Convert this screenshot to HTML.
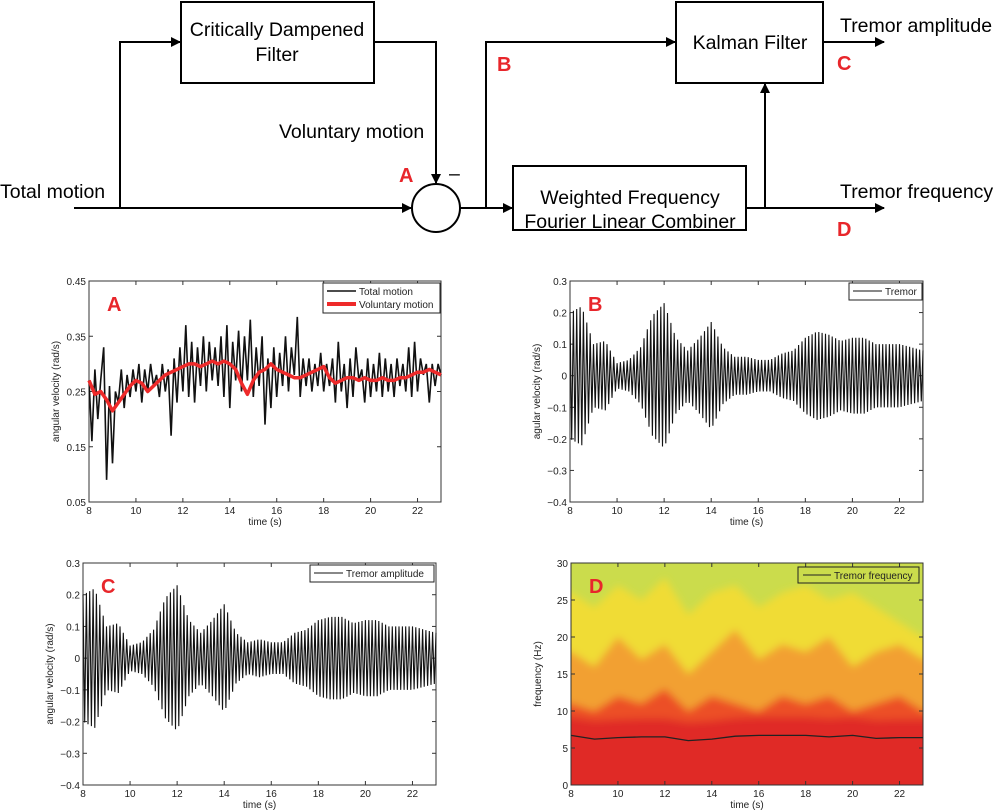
<!DOCTYPE html>
<html><head><meta charset="utf-8"><style>
html,body{margin:0;padding:0;background:#fff}
svg{display:block;font-family:"Liberation Sans",Arial,sans-serif}
.dt{font-size:19.5px;fill:#000}
.lab{font-size:20px;font-weight:bold;fill:#e8262b}
.tk{font-size:10px;fill:#222}
.al{font-size:10px;fill:#222}
</style></head><body>
<svg id="root" width="1000" height="811" viewBox="0 0 1000 811">
<defs>
<marker id="ar" markerWidth="10" markerHeight="10" refX="9" refY="5" orient="auto" markerUnits="userSpaceOnUse"><path d="M0,0 L10,5 L0,10 z" fill="#000"/></marker>
<filter id="blur"><feGaussianBlur stdDeviation="4"/></filter>
<clipPath id="clipD"><rect x="571" y="563" width="352" height="222"/></clipPath>
</defs>
<g stroke="#000" stroke-width="2" fill="none">
<rect x="181" y="2" width="193" height="81"/>
<rect x="676" y="2" width="147" height="81"/>
<rect x="513" y="166" width="233" height="64"/>
<circle cx="436" cy="208" r="24"/>
<path d="M74,208 L411,208" marker-end="url(#ar)"/>
<path d="M120,208 L120,42 L180,42" marker-end="url(#ar)"/>
<path d="M374,42 L436,42 L436,183" marker-end="url(#ar)"/>
<path d="M460,208 L512,208" marker-end="url(#ar)"/>
<path d="M486,208 L486,42 L675,42" marker-end="url(#ar)"/>
<path d="M823,42 L884,42" marker-end="url(#ar)"/>
<path d="M746,208 L884,208" marker-end="url(#ar)"/>
<path d="M765,208 L765,84" marker-end="url(#ar)"/>
</g>
<g>
<text class="dt" x="277" y="36" text-anchor="middle">Critically Dampened</text>
<text class="dt" x="277" y="61" text-anchor="middle">Filter</text>
<text class="dt" x="750" y="49" text-anchor="middle">Kalman Filter</text>
<text class="dt" x="630" y="204" text-anchor="middle">Weighted Frequency</text>
<text class="dt" x="630" y="228" text-anchor="middle">Fourier Linear Combiner</text>
<text class="dt" x="840" y="32">Tremor amplitude</text>
<text class="dt" x="840" y="198">Tremor frequency</text>
<text class="dt" x="0" y="198">Total motion</text>
<text class="dt" x="279" y="138">Voluntary motion</text>
<text class="dt" x="449" y="180">–</text>
<text class="lab" x="399" y="182">A</text>
<text class="lab" x="497" y="71">B</text>
<text class="lab" x="837" y="70">C</text>
<text class="lab" x="837" y="236">D</text>
</g>
<g id="charts"></g>
</svg>
<script>
// Panel A data (t from 8 to 23)
const voluntaryT = [8,8.25,8.5,8.75,9,9.25,9.5,9.75,10,10.25,10.5,10.75,11,11.25,11.5,11.75,12,12.25,12.5,12.75,13,13.25,13.5,13.75,14,14.25,14.5,14.75,15,15.25,15.5,15.75,16,16.25,16.5,16.75,17,17.25,17.5,17.75,18,18.25,18.5,18.75,19,19.25,19.5,19.75,20,20.25,20.5,20.75,21,21.25,21.5,21.75,22,22.25,22.5,22.75,23];
const voluntaryV = [0.27,0.245,0.25,0.235,0.215,0.23,0.245,0.26,0.27,0.265,0.25,0.26,0.27,0.28,0.285,0.29,0.295,0.3,0.3,0.295,0.3,0.305,0.3,0.305,0.3,0.29,0.265,0.245,0.27,0.285,0.29,0.3,0.29,0.285,0.28,0.275,0.275,0.28,0.285,0.29,0.295,0.275,0.265,0.27,0.275,0.275,0.27,0.275,0.27,0.27,0.275,0.27,0.27,0.275,0.275,0.28,0.285,0.285,0.29,0.285,0.28];
const totalV = [0.27,0.16,0.29,0.2,0.27,0.33,0.09,0.26,0.12,0.25,0.23,0.29,0.22,0.28,0.24,0.29,0.25,0.3,0.23,0.29,0.25,0.3,0.26,0.28,0.24,0.3,0.25,0.29,0.17,0.31,0.23,0.33,0.25,0.37,0.24,0.34,0.23,0.33,0.26,0.35,0.25,0.34,0.27,0.33,0.26,0.35,0.24,0.37,0.22,0.34,0.27,0.36,0.25,0.35,0.27,0.38,0.24,0.33,0.26,0.35,0.19,0.31,0.22,0.33,0.24,0.32,0.26,0.35,0.25,0.33,0.28,0.385,0.24,0.31,0.26,0.31,0.25,0.3,0.26,0.32,0.25,0.3,0.26,0.31,0.23,0.34,0.25,0.3,0.22,0.31,0.24,0.33,0.27,0.29,0.23,0.31,0.24,0.3,0.25,0.32,0.24,0.31,0.25,0.3,0.24,0.31,0.26,0.3,0.25,0.33,0.24,0.34,0.25,0.31,0.28,0.3,0.23,0.3,0.26,0.3,0.28];
// Panel B/C tremor envelope (every 0.5 s)
const envT = [8,8.5,9,9.5,10,10.5,11,11.5,12,12.5,13,13.5,14,14.5,15,15.5,16,16.5,17,17.5,18,18.5,19,19.5,20,20.5,21,21.5,22,22.5,23];
const tremorEnv = [0.2,0.22,0.1,0.11,0.04,0.05,0.09,0.19,0.23,0.12,0.08,0.12,0.17,0.09,0.06,0.06,0.05,0.05,0.07,0.08,0.12,0.14,0.13,0.11,0.12,0.12,0.1,0.1,0.1,0.09,0.08];
const ampEnv = [0.2,0.22,0.1,0.11,0.04,0.05,0.09,0.19,0.23,0.12,0.08,0.12,0.17,0.08,0.05,0.06,0.05,0.05,0.08,0.09,0.12,0.13,0.13,0.11,0.12,0.12,0.1,0.1,0.1,0.09,0.08];
const tremorHz = 7;
// Panel D
const freqT = [8,9,10,11,12,13,14,15,16,17,18,19,20,21,22,23];
const freqV = [6.7,6.2,6.4,6.5,6.5,6.0,6.2,6.6,6.7,6.7,6.7,6.5,6.7,6.3,6.4,6.4];
const redTop = [11,10,12,11,13,10,12,11,10,12,11,12,10,11,12,10];
const orangeTop = [18,16,20,17,19,15,18,21,17,19,18,20,16,18,19,17];
const yellowTop = [26,24,27,25,28,23,26,27,24,26,27,25,26,24,22,20];

const NS="http://www.w3.org/2000/svg";
const root=document.getElementById('charts');
function mk(tag,attrs,parent){const e=document.createElementNS(NS,tag);for(const k in attrs)e.setAttribute(k,attrs[k]);(parent||root).appendChild(e);return e;}
function interp(ts,vs,t){for(let i=0;i<ts.length-1;i++){if(t<=ts[i+1]){const f=(t-ts[i])/(ts[i+1]-ts[i]);return vs[i]+f*(vs[i+1]-vs[i]);}}return vs[vs.length-1];}

function axes(p){
  const g=mk('g',{});
  
  
  p.g=g;
  p.sx=t=>p.x0+(t-8)/15*(p.x1-p.x0);
  p.sy=v=>p.y1-(v-p.ymin)/(p.ymax-p.ymin)*(p.y1-p.y0);
  return g;
}
function frame(p,yticks,yfmt,ylabel){
  const g=p.g;
  mk('rect',{x:p.x0,y:p.y0,width:p.x1-p.x0,height:p.y1-p.y0,fill:'none',stroke:'#333','stroke-width':1},g);
  [8,10,12,14,16,18,20,22].forEach(t=>{
    const x=p.sx(t);
    mk('line',{x1:x,x2:x,y1:p.y1,y2:p.y1-4,stroke:'#333'},g);
    mk('line',{x1:x,x2:x,y1:p.y0,y2:p.y0+4,stroke:'#333'},g);
    const tx=mk('text',{x:x,y:p.y1+12,'text-anchor':'middle',class:'tk'},g);
    tx.textContent=t;
    
    
  });
  yticks.forEach(v=>{
    const y=p.sy(v);
    mk('line',{x1:p.x0,x2:p.x0+4,y1:y,y2:y,stroke:'#333'},g);
    mk('line',{x1:p.x1,x2:p.x1-4,y1:y,y2:y,stroke:'#333'},g);
    const tx=mk('text',{x:p.x0-3,y:y+4,'text-anchor':'end',class:'tk'},g);
    tx.textContent=yfmt(v);
    
    
  });
  const xl=mk('text',{x:(p.x0+p.x1)/2,y:p.y1+23,'text-anchor':'middle',class:'al'},g);
  xl.textContent='time (s)';
  
  
  const cy=(p.y0+p.y1)/2, cx=p.x0-30;
  const yl=mk('text',{x:cx,y:cy,'text-anchor':'middle',class:'al',transform:`rotate(-90 ${cx} ${cy})`},g);
  yl.textContent=ylabel;
  
  
}
function legend(p,x,y,w,h,items){
  const lg=mk('g',{},p.g);
  
  
  mk('rect',{x:x,y:y,width:w,height:h,fill:'#fff',stroke:'#222'},lg);
  items.forEach((it,i)=>{
    const yy=y+8+i*13;
    mk('line',{x1:x+4,x2:x+33,y1:yy,y2:yy,stroke:it.c,'stroke-width':it.w},lg);
    const t=mk('text',{x:x+36,y:yy+4,class:'tk'},lg);
    t.textContent=it.t;
    
    
  });
}
function bigLabel(p,txt){
  const t=mk('text',{x:p.x0+18,y:p.y0+30,class:'lab'},p.g);
  t.setAttribute('font-size','22');
  t.textContent=txt;
  
  
}
const fmt2=v=>v.toFixed(2);
const fmt1=v=>v===0?'0':(v<0?'\u2212'+Math.abs(v).toFixed(1):v.toFixed(1));

// Panel A
const A={name:'chart-a',x0:89,x1:441,y0:281,y1:502,ymin:0.05,ymax:0.45};
axes(A);
frame(A,[0.05,0.15,0.25,0.35,0.45],fmt2,'angular velocity (rad/s)');
let d='';
totalV.forEach((v,i)=>{const t=8+i*15/(totalV.length-1);d+=(i?'L':'M')+A.sx(t).toFixed(1)+','+A.sy(v).toFixed(1);});
const tl=mk('path',{d:d,fill:'none',stroke:'#111','stroke-width':1.6},A.g);


d='';
voluntaryV.forEach((v,i)=>{d+=(i?'L':'M')+A.sx(voluntaryT[i]).toFixed(1)+','+A.sy(v).toFixed(1);});
const vl=mk('path',{d:d,fill:'none',stroke:'#ee2a2a','stroke-width':3.5,'stroke-linejoin':'round'},A.g);


legend(A,323,283,117,30,[{t:'Total motion',c:'#111',w:1.5},{t:'Voluntary motion',c:'#ee2a2a',w:4}]);
bigLabel(A,'A');

function tremorPanel(p,env,ylabel,legendText,lx,lw,lab){
  axes(p);
  frame(p,[-0.4,-0.3,-0.2,-0.1,0,0.1,0.2,0.3],fmt1,ylabel);
  let dd='';const n=Math.round(15*tremorHz*2);
  for(let i=0;i<=n;i++){
    const t=8+i*15/n;
    const a=interp(envT,env,t)*(i%2?-1:1);
    dd+=(i?'L':'M')+p.sx(t).toFixed(1)+','+p.sy(a).toFixed(1);
  }
  const pl=mk('path',{d:dd,fill:'none',stroke:'#111','stroke-width':1.1},p.g);
  
  
  legend(p,lx,p.y0+2,lw,17,[{t:legendText,c:'#111',w:1}]);
  bigLabel(p,lab);
}
tremorPanel({name:'chart-b',x0:570,x1:923,y0:281,y1:502,ymin:-0.4,ymax:0.3},tremorEnv,'agular velocity (rad/s)','Tremor',849,73,'B');
tremorPanel({name:'chart-c',x0:83,x1:436,y0:563,y1:785,ymin:-0.4,ymax:0.3},ampEnv,'angular velocity (rad/s)','Tremor amplitude',310,124,'C');

// Panel D
const D={name:'chart-d',x0:571,x1:923,y0:563,y1:785,ymin:0,ymax:30};
axes(D);
const hm=mk('g',{'clip-path':'url(#clipD)'},D.g);


mk('rect',{x:D.x0,y:D.y0,width:352,height:222,fill:'#cbdc4c'},hm);
const bg=mk('g',{filter:'url(#blur)'},hm);
function band(tops,color,name){
  let s='M'+(D.x0-20)+','+(D.y1+20)+'L'+(D.x0-20)+','+D.sy(tops[0]).toFixed(1);
  tops.forEach((f,i)=>{s+='L'+D.sx(freqT[i]).toFixed(1)+','+D.sy(f).toFixed(1);});
  s+='L'+(D.x1+20)+','+D.sy(tops[tops.length-1]).toFixed(1)+'L'+(D.x1+20)+','+(D.y1+20)+'Z';
  const b=mk('path',{d:s,fill:color},bg);
  
  
}
band(yellowTop,'#f0dc36','spectrogram-yellow-band');
band(orangeTop,'#f2a030','spectrogram-orange-band');
band(redTop,'#ec5028','spectrogram-red-band');
band(freqV.map(v=>v+2.5),'#e02c28','spectrogram-peak-band');
frame(D,[0,5,10,15,20,25,30],v=>String(v),'frequency (Hz)');
d='';
freqV.forEach((v,i)=>{d+=(i?'L':'M')+D.sx(freqT[i]).toFixed(1)+','+D.sy(v).toFixed(1);});
const fl=mk('path',{d:d,fill:'none',stroke:'#222','stroke-width':1.3},D.g);


const lgd=mk('g',{},D.g);


mk('rect',{x:798,y:567,width:121,height:16,fill:'none',stroke:'#222'},lgd);
mk('line',{x1:803,x2:831,y1:575,y2:575,stroke:'#222'},lgd);
const lt=mk('text',{x:834,y:579,class:'tk'},lgd);
lt.textContent='Tremor frequency';


bigLabel(D,'D');
</script>
</body></html>
